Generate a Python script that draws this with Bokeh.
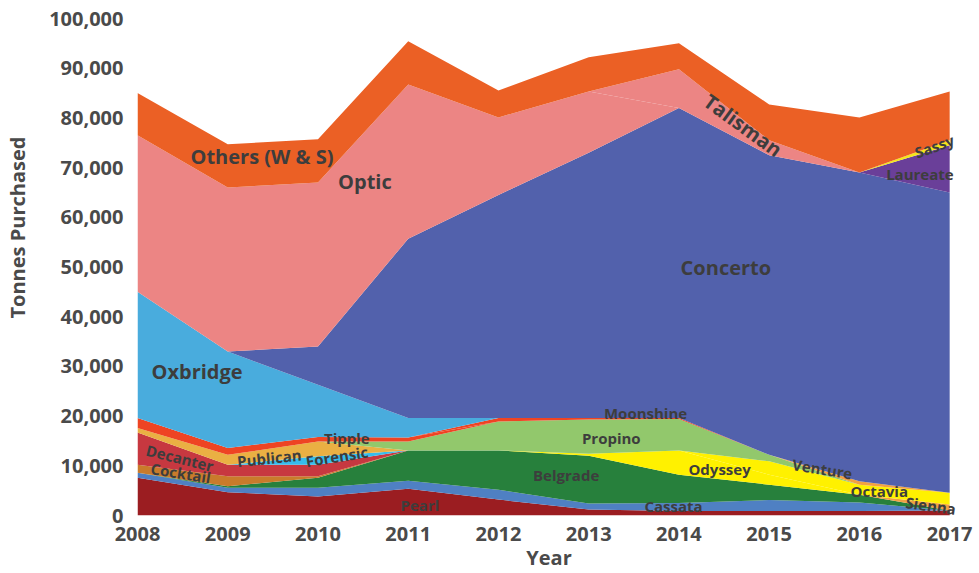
from bokeh.plotting import figure
from bokeh.layouts import row
from bokeh.models import ColumnDataSource, Label, NumeralTickFormatter
from bokeh.embed import file_html
from bokeh.resources import INLINE

# ---- data (tonnes purchased, stacked bottom -> top) ----
years = [2008, 2009, 2010, 2011, 2012, 2013, 2014, 2015, 2016, 2017]
pearl     = [7600, 4700, 3800, 5400, 3200, 1200, 900, 900, 900, 1000]
cassata   = [1000, 900, 1800, 1600, 2000, 1200, 1600, 2200, 1700, 0]
belgrade  = [0, 300, 2000, 6100, 7900, 9600, 5700, 3100, 1600, 0]
sienna    = [0, 0, 0, 0, 0, 0, 0, 0, 0, 1200]
cocktail  = [1600, 2000, 300, 0, 0, 0, 0, 0, 0, 0]
decanter  = [6500, 2300, 2300, 0, 0, 0, 0, 0, 0, 0]
forensic  = [0, 0, 1700, 0, 0, 0, 0, 0, 0, 0]
publican  = [900, 2000, 3000, 0, 0, 0, 0, 0, 0, 0]
odyssey   = [0, 0, 0, 0, 0, 400, 4900, 2000, 0, 0]
octavia   = [0, 0, 0, 0, 0, 0, 0, 2700, 2000, 2400]
propino   = [0, 0, 0, 1800, 5800, 6900, 6300, 1300, 0, 0]
tipple    = [2000, 1400, 900, 800, 0, 0, 0, 0, 0, 0]
moonshine = [0, 0, 0, 0, 700, 300, 200, 0, 0, 0]
venture   = [0, 0, 0, 0, 0, 0, 0, 0, 700, 0]
oxbridge  = [25400, 19400, 10500, 3900, 0, 0, 0, 0, 0, 0]
concerto  = [0, 0, 7700, 36100, 44900, 53400, 62400, 60300, 62100, 60400]
optic     = [31500, 33000, 33000, 31000, 15600, 12300, 0, 0, 0, 0]
talisman  = [0, 0, 0, 0, 0, 0, 7800, 3000, 0, 0]
laureate  = [0, 0, 0, 0, 0, 0, 0, 0, 0, 9500]
sassy     = [0, 0, 0, 0, 0, 0, 0, 0, 0, 1000]
others    = [8500, 8700, 8700, 8700, 5400, 6900, 5200, 7200, 11100, 9800]

y_ticks = [0, 10000, 20000, 30000, 40000, 50000, 60000, 70000, 80000, 90000, 100000]

series = [
    ("pearl", pearl, "#9B1D21"),
    ("cassata", cassata, "#4F80C3"),
    ("belgrade", belgrade, "#27803C"),
    ("sienna", sienna, "#F1A142"),
    ("cocktail", cocktail, "#C97B2B"),
    ("decanter", decanter, "#C73840"),
    ("forensic", forensic, "#36BCEC"),
    ("publican", publican, "#EAB043"),
    ("odyssey", odyssey, "#FFF100"),
    ("octavia", octavia, "#FFF100"),
    ("propino", propino, "#92C86C"),
    ("tipple", tipple, "#EE4423"),
    ("moonshine", moonshine, "#EE4423"),
    ("venture", venture, "#F1A142"),
    ("oxbridge", oxbridge, "#49ACDD"),
    ("concerto", concerto, "#5261AC"),
    ("optic", optic, "#EC8584"),
    ("talisman", talisman, "#EC8584"),
    ("laureate", laureate, "#6A3F99"),
    ("sassy", sassy, "#F5E61A"),
    ("others", others, "#EB6025"),
]

# in-chart annotations: text, x (year), y (tonnes), angle (deg), size
annotations = [
    ("Others (W & S)", 2009.38, 72150, 0, "20px"),
    ("Optic", 2010.52, 67270, 0, "20px"),
    ("Oxbridge", 2008.66, 28980, 0, "20px"),
    ("Concerto", 2014.52, 49800, 0, "20px"),
    ("Talisman", 2014.71, 78500, -36, "20px"),
    ("Laureate", 2016.67, 68800, 0, "15px"),
    ("Sassy", 2016.83, 74300, 20, "15px"),
    ("Moonshine", 2013.63, 20680, 0, "15px"),
    ("Propino", 2013.25, 15660, 0, "15px"),
    ("Belgrade", 2012.75, 8090, 0, "15px"),
    ("Odyssey", 2014.45, 9440, 0, "15px"),
    ("Venture", 2015.59, 9380, -9, "15px"),
    ("Octavia", 2016.22, 4880, 0, "15px"),
    ("Sienna", 2016.79, 2010, -8, "15px"),
    ("Cassata", 2013.94, 1870, 0, "15px"),
    ("Pearl", 2011.13, 2210, 0, "15px"),
    ("Tipple", 2010.32, 15600, 0, "15px"),
    ("Forensic", 2010.21, 11910, 9, "15px"),
    ("Publican", 2009.46, 11570, 6, "15px"),
    ("Decanter", 2008.47, 11590, -14, "15px"),
    ("Cocktail", 2008.48, 8570, -9, "15px"),
]

data = {"year": years}
for name, vals, _ in series:
    data[name] = vals
source = ColumnDataSource(data)

TXT = "#3d3d3d"
AX = "#4a4a4a"
H = 573

# narrow side figure that only holds the vertical axis title
side = figure(width=30, height=H, x_range=(0, 30), y_range=(0, H),
              output_backend="svg", toolbar_location=None,
              min_border=0)
side.axis.visible = False
side.grid.visible = False
side.outline_line_color = None
side.add_layout(Label(x=17, y=H - 241, text="Tonnes Purchased", angle=90,
                      angle_units="deg", text_align="center", text_baseline="middle",
                      text_font="Open Sans", text_font_style="bold",
                      text_font_size="20px", text_color=AX))

p = figure(width=945, height=H, x_range=(2008, 2017.12), y_range=(0, 100000),
           output_backend="svg", toolbar_location=None,
           min_border_left=107, min_border_right=15, min_border_top=18,
           min_border_bottom=40)
p.background_fill_color = "white"
p.border_fill_color = "white"
p.outline_line_color = None
p.grid.grid_line_color = None

p.varea_stack(stackers=[s[0] for s in series], x="year",
              color=[s[2] for s in series], source=source)

for ax in (p.xaxis[0], p.yaxis[0]):
    ax.axis_line_color = None
    ax.major_tick_line_color = None
    ax.minor_tick_line_color = None
    ax.major_tick_out = 0
    ax.major_tick_in = 0
    ax.major_label_text_font = "Open Sans"
    ax.major_label_text_font_style = "bold"
    ax.major_label_text_font_size = "20px"
    ax.major_label_text_color = AX
    ax.axis_label_text_font = "Open Sans"
    ax.axis_label_text_font_style = "bold"
    ax.axis_label_text_font_size = "20px"
    ax.axis_label_text_color = AX

p.xaxis.ticker = years
p.yaxis.ticker = y_ticks
p.yaxis.formatter = NumeralTickFormatter(format="0,0")
p.xaxis.major_label_standoff = 11
p.yaxis.major_label_standoff = 14
p.xaxis.axis_label = "Year"
p.xaxis.axis_label_standoff = 0

for txt, x, y, ang, size in annotations:
    p.add_layout(Label(x=x, y=y, text=txt, angle=ang, angle_units="deg",
                       text_align="center", text_baseline="middle",
                       text_font="Open Sans", text_font_style="bold",
                       text_font_size=size, text_color=TXT))

layout = row(side, p)
open("out.html", "w").write(file_html(layout, INLINE))
